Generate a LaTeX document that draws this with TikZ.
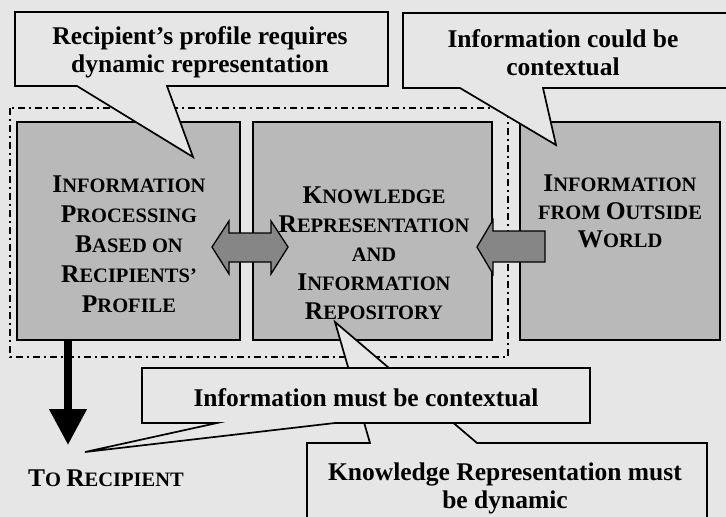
\documentclass[tikz,border=0pt]{standalone}
\usepackage{fontspec}
\setmainfont{Liberation Serif}
\usetikzlibrary{arrows.meta,calc}
\definecolor{bg}{HTML}{E6E6E6}
\definecolor{boxgray}{HTML}{B9B9B9}
\definecolor{arrgray}{HTML}{868686}
\newcommand{\Bg}[1]{{\fontsize{25.5}{25}\selectfont #1}}
\begin{document}
\begin{tikzpicture}[x=1pt,y=-1pt,
  blk/.style={draw=black,line width=2pt,fill=boxgray,inner sep=0pt,outer sep=0pt},
  boxtxt/.style={font=\bfseries\fontsize{20.5}{29}\selectfont,align=center,inner sep=0pt},
  call/.style={draw=black,line width=1.7pt,fill=bg,line join=miter},
  calltxt/.style={font=\bfseries\fontsize{25.5}{28}\selectfont,align=center,inner sep=0pt},
  blockarrow/.style={draw=black,line width=1.3pt,fill=arrgray,line join=miter},
  dashdot/.style={line width=1.6pt,dash pattern=on 7pt off 4pt on 2pt off 4pt}]
\useasboundingbox (0,0) rectangle (726,517);
\fill[bg] (0,0) rectangle (726,517);
\clip (0,0) rectangle (726,517);
% grouping boundary
\draw[dashdot] (10,108) rectangle (508,357);
% boxes
\node[blk,anchor=north west,minimum width=223,minimum height=218] (b1) at (17,122) {};
\node[blk,anchor=north west,minimum width=239,minimum height=218] (b2) at (253,122) {};
\node[blk,anchor=north west,minimum width=200,minimum height=218] (b3) at (520,122) {};
\node[boxtxt,font=\bfseries\fontsize{20.5}{30}\selectfont] (t1) at (129,244)
  {\Bg{I}NFORMATION\\\Bg{P}ROCESSING\\\Bg{B}ASED ON\\\Bg{R}ECIPIENTS'\\\Bg{P}ROFILE};
\node[boxtxt] (t2) at (374,253)
  {\Bg{K}NOWLEDGE\\\Bg{R}EPRESENTATION\\AND\\\Bg{I}NFORMATION\\\Bg{R}EPOSITORY};
\node[boxtxt,font=\bfseries\fontsize{20.5}{28}\selectfont] (t3) at (620,211)
  {\Bg{I}NFORMATION\\FROM \Bg{O}UTSIDE\\\Bg{W}ORLD};
% block arrows
\draw[blockarrow] (212,247) -- (229,221) -- (229,233) -- (271,233) -- (271,221)
  -- (288,247) -- (271,274) -- (271,262) -- (229,262) -- (229,274) -- cycle;
\draw[blockarrow] (477,247) -- (493,220) -- (493,231) -- (545,231) -- (545,262)
  -- (493,262) -- (493,274) -- cycle;
% output arrow
\coordinate (outtip) at (68,445);
\draw[line width=7.5pt,-{Triangle[width=36pt,length=36pt]}] (b1.south -| outtip) -- (outtip);
\node[font=\bfseries\fontsize{20.5}{20}\selectfont,inner sep=0pt] (rec) at (106,478) {\Bg{T}O \Bg{R}ECIPIENT};
% callout 4
\draw[call] (307,443) -- (370,443) -- (335,322) -- (477,443) -- (707,443) -- (707,540) -- (307,540) -- cycle;
\node[calltxt] (c4) at (505,488) {Knowledge Representation must\\be dynamic};
% callout 3
\draw[call] (142,368) -- (590,368) -- (590,423) -- (335,423) -- (85,452) -- (217,423) -- (142,423) -- cycle;
\node[calltxt] (c3) at (366,398) {Information must be contextual};
% callout 1
\draw[call] (15,12) -- (388,12) -- (388,86) -- (167,86) -- (193,157) -- (77,86) -- (15,86) -- cycle;
\node[calltxt] (c1) at (200,52) {Recipient's profile requires\\dynamic representation};
% callout 2
\draw[call] (403,13) -- (740,13) -- (740,88) -- (543,88) -- (556,145) -- (460,88) -- (403,88) -- cycle;
\node[calltxt] (c2) at (563,53) {Information could be\\contextual};
\end{tikzpicture}
\end{document}
